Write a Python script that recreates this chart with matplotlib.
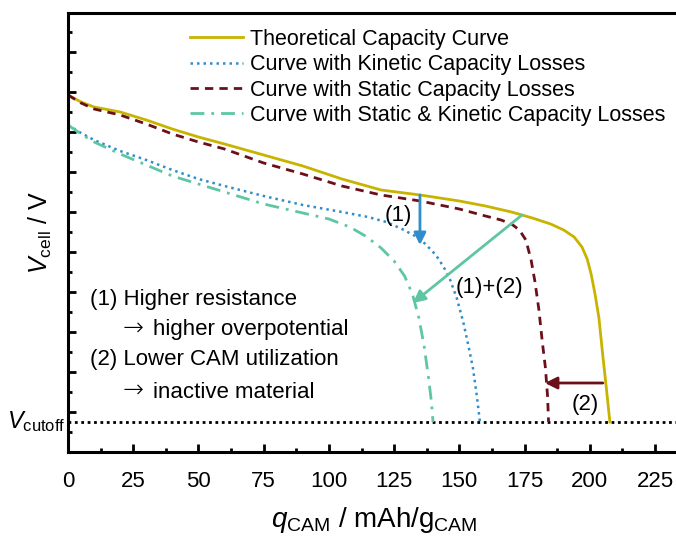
import numpy as np
import matplotlib.pyplot as plt
from matplotlib.ticker import MultipleLocator

plt.rcParams['font.family'] = ['Liberation Sans', 'DejaVu Sans']
plt.rcParams['mathtext.fontset'] = 'custom'
plt.rcParams['mathtext.rm'] = 'Liberation Sans'
plt.rcParams['mathtext.it'] = 'Liberation Sans:italic'

# theoretical capacity curve
q_theo = [0, 5, 10, 20, 30, 40, 50, 60, 75, 90, 105, 120, 135, 150, 160, 170, 178, 185,
          190, 194, 197, 199, 200.5, 202, 203.5, 205, 206.5, 207.7]
v_theo = [4.385, 4.35, 4.325, 4.30, 4.26, 4.215, 4.175, 4.14, 4.085, 4.03, 3.965, 3.91, 3.885,
          3.855, 3.83, 3.80, 3.77, 3.74, 3.71, 3.675, 3.625, 3.565, 3.49, 3.39, 3.27, 3.08, 2.9, 2.75]

# kinetic capacity losses
q_kin = [0, 5, 10, 20, 30, 40, 50, 60, 75, 90, 105, 115, 122, 128, 133, 137, 141, 144,
         146.5, 149, 151.5, 153.5, 155.2, 156.7, 157.9]
v_kin = [4.235, 4.195, 4.16, 4.105, 4.06, 4.01, 3.965, 3.93, 3.88, 3.835, 3.80, 3.775, 3.75,
         3.715, 3.68, 3.64, 3.585, 3.525, 3.46, 3.37, 3.25, 3.13, 3.02, 2.88, 2.75]

# static capacity losses
q_stat = [0, 5, 10, 20, 30, 40, 50, 60, 75, 90, 105, 120, 135, 150, 160, 166, 170, 173,
          175.5, 177.5, 179, 180.5, 181.8, 183, 183.8, 184.2]
v_stat = [4.385, 4.345, 4.315, 4.285, 4.24, 4.19, 4.15, 4.115, 4.045, 3.99, 3.93, 3.885, 3.855,
          3.815, 3.78, 3.76, 3.74, 3.71, 3.66, 3.56, 3.45, 3.31, 3.15, 3.02, 2.88, 2.75]

# static & kinetic capacity losses
q_both = [0, 5, 10, 20, 30, 40, 50, 60, 75, 90, 100, 108, 114, 120, 125, 129, 132,
          134.5, 136.5, 138.2, 139.3, 139.9]
v_both = [4.235, 4.19, 4.15, 4.09, 4.035, 3.98, 3.94, 3.90, 3.84, 3.795, 3.765, 3.725, 3.68,
          3.62, 3.555, 3.48, 3.39, 3.27, 3.13, 2.97, 2.85, 2.75]

v_cutoff = 2.75

c_yel = '#c8b400'
c_blue = '#2f8dcc'
c_red = '#6b1019'
c_green = '#5ec6a2'

fig = plt.figure(figsize=(6.76, 5.37), dpi=100)
ax = fig.add_axes([68/676, 85/537, 235*2.609/676, 439/537])

ax.axhline(v_cutoff, color='black', lw=2, ls=(0, (1, 1.3)), zorder=1)

ax.plot(q_theo, v_theo, color=c_yel, lw=2, label='Theoretical Capacity Curve')
ax.plot(q_kin, v_kin, color=c_blue, lw=1.8, ls=(0, (1, 1.6)), label='Curve with Kinetic Capacity Losses')
ax.plot(q_stat, v_stat, color=c_red, lw=2, ls=(0, (3, 2.2)), label='Curve with Static Capacity Losses')
ax.plot(q_both, v_both, color=c_green, lw=2, ls=(0, (5, 2.5, 1, 2.5)),
        label='Curve with Static & Kinetic Capacity Losses')

# arrows
ax.annotate('', xy=(134.9, 3.635), xytext=(134.9, 3.885),
            arrowprops=dict(arrowstyle='-|>', color=c_blue, lw=2, mutation_scale=18, shrinkA=0, shrinkB=0))
ax.annotate('', xy=(132.2, 3.345), xytext=(174.0, 3.785),
            arrowprops=dict(arrowstyle='-|>', color=c_green, lw=2, mutation_scale=18, shrinkA=0, shrinkB=0))
ax.annotate('', xy=(182.8, 2.945), xytext=(205.0, 2.945),
            arrowprops=dict(arrowstyle='-|>', color=c_red, lw=2, mutation_scale=18, shrinkA=0, shrinkB=0))

ax.text(126.5, 3.78, '(1)', fontsize=16, ha='center', va='center')
ax.text(161.5, 3.42, '(1)+(2)', fontsize=16, ha='center', va='center')
ax.text(198.2, 2.84, '(2)', fontsize=16, ha='center', va='center')

ax.text(8.4, 3.36, '(1) Higher resistance', fontsize=16, va='center')
ax.text(21.0, 3.215, '\u2192', fontsize=18, va='center', family='DejaVu Sans', fontweight='light')
ax.text(32.6, 3.21, 'higher overpotential', fontsize=16, va='center')
ax.text(8.4, 3.06, '(2) Lower CAM utilization', fontsize=16, va='center')
ax.text(21.0, 2.905, '\u2192', fontsize=18, va='center', family='DejaVu Sans', fontweight='light')
ax.text(32.6, 2.90, 'inactive material', fontsize=16, va='center')

ax.text(-0.004, v_cutoff, r'$\mathit{V}_\mathrm{cutoff}$', fontsize=17, ha='right', va='center',
        transform=ax.get_yaxis_transform())

ax.set_xlim(0, 235)
ax.set_ylim(2.6, 4.795)
ax.xaxis.set_major_locator(MultipleLocator(25))
ax.xaxis.set_minor_locator(MultipleLocator(12.5))
ax.yaxis.set_major_locator(MultipleLocator(0.2))
ax.yaxis.set_minor_locator(MultipleLocator(0.1))
ax.set_yticklabels([])
ax.tick_params(which='both', direction='in', width=2, top=False, right=False)
ax.tick_params(which='major', length=6, labelsize=16, pad=14)
ax.tick_params(which='minor', length=3)
for s in ax.spines.values():
    s.set_linewidth(2.2)

ax.set_xlabel(r'$\mathit{q}_\mathrm{CAM}$ / mAh/g$_\mathrm{CAM}$', fontsize=20, labelpad=9)
ax.set_ylabel(r'$\mathit{V}_\mathrm{cell}$ / V', fontsize=18, labelpad=-4)

fig.legend(loc='upper left', bbox_to_anchor=(190/676, 1 - 29/537), frameon=False, fontsize=15.5,
           handlelength=2.45, handletextpad=0.33, labelspacing=0.2, borderpad=0, borderaxespad=0)

fig.savefig('out.png', dpi=100)
